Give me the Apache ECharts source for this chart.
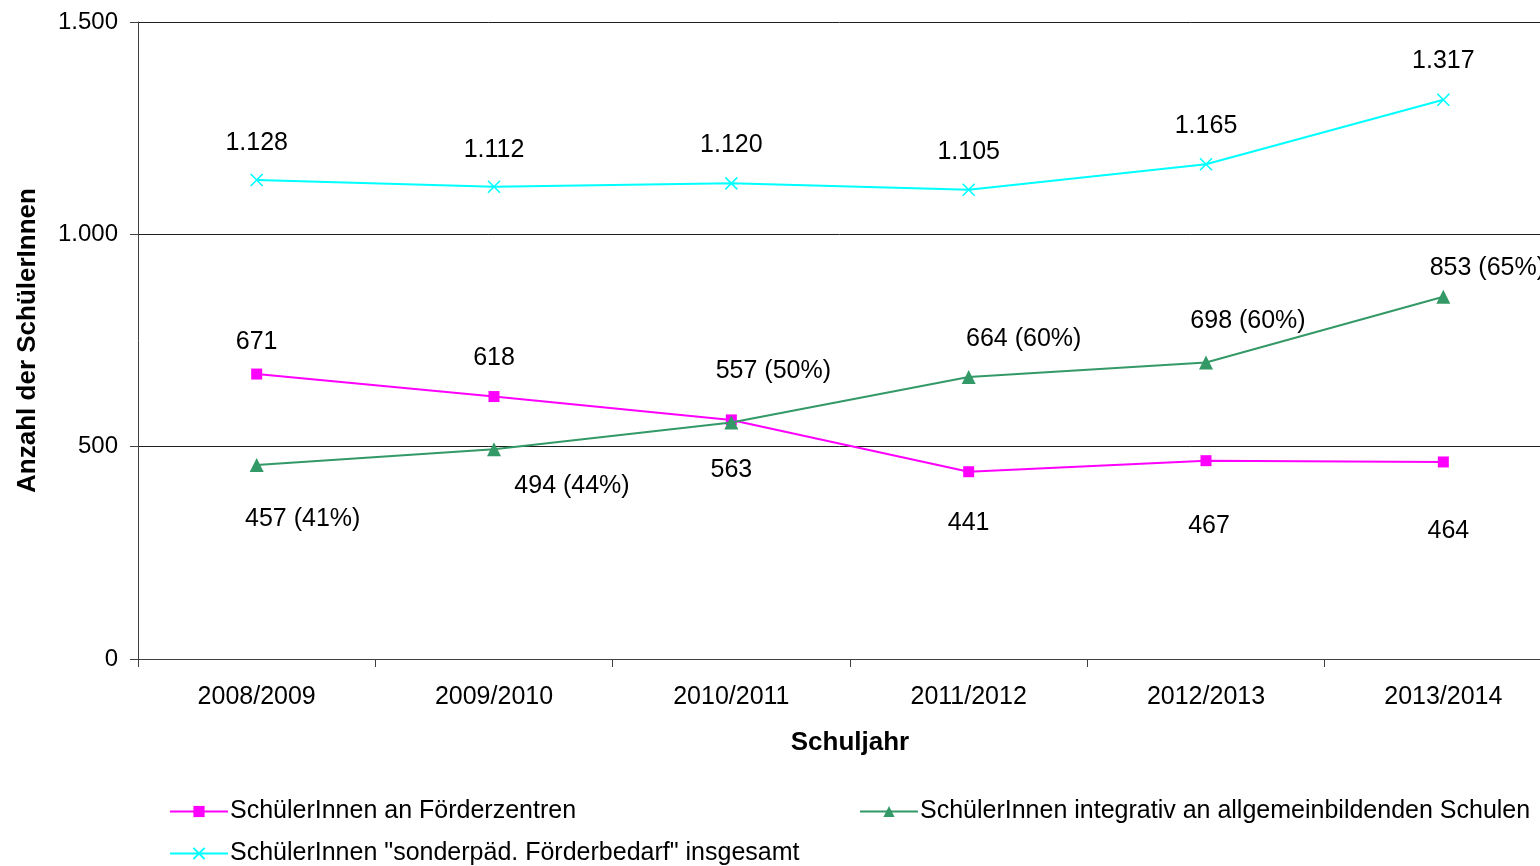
<!DOCTYPE html>
<html>
<head>
<meta charset="utf-8">
<script src="https://cdn.jsdelivr.net/npm/echarts@6/dist/echarts.min.js"></script>
<style>
  html, body { margin: 0; padding: 0; background: #fff; }
  #chart { width: 1540px; height: 866px; }
</style>
</head>
<body>
<div id="chart"></div>
<script>
const years = ['2008/2009', '2009/2010', '2010/2011', '2011/2012', '2012/2013', '2013/2014']
const foerderzentren = [671, 618, 563, 441, 467, 464]
const integrativ = [457, 494, 557, 664, 698, 853]
const integrativPct = [41, 44, 50, 60, 60, 65]
const insgesamt = [1128, 1112, 1120, 1105, 1165, 1317]
const yTicks = [0, 500, 1000, 1500]

const names = [
  'SchülerInnen an Förderzentren',
  'SchülerInnen integrativ an allgemeinbildenden Schulen',
  'SchülerInnen "sonderpäd. Förderbedarf" insgesamt'
]

// label offsets relative to the point (layout only)
const pinkOffsets = [[0, -32], [0, -38], [0, 50], [0, 51], [3, 65], [5, 69]]
const greenOffsets = [[46, 54], [78, 37], [42, -51], [55, -38], [42, -41], [44, -29]]
const cyanOffsets = [[0, -37], [0, -37], [0, -38], [0, -38], [0, -38], [0, -39]]

const font = 'Liberation Sans, Arial, sans-serif'

function fmt(v) {
  return String(v).replace(/\B(?=(\d{3})+(?!\d))/g, '.')
}

function withLabels(values, offsets, textFn) {
  return values.map((v, i) => ({
    value: v,
    label: { offset: offsets[i], formatter: textFn(v, i) }
  }))
}

const labelBase = {
  show: true,
  position: 'inside',
  color: '#000',
  fontFamily: font,
  fontSize: 25
}

const chart = echarts.init(document.getElementById('chart'))
const legendBase = {
  orient: 'horizontal',
  itemWidth: 58,
  itemHeight: 14,
  itemGap: 4,
  textStyle: { fontFamily: font, fontSize: 25, color: '#000', padding: [0, 0, 0, -3] }
}

let option = {
  backgroundColor: '#fff',
  animation: false,
  grid: { left: 138, top: 22, width: 1424, bottom: 207, outerBoundsMode: 'none', containLabel: false },
  legend: [
    Object.assign({ left: 164, top: 794, data: [names[0]] }, legendBase),
    Object.assign({ left: 854, top: 794, data: [names[1]] }, legendBase),
    Object.assign({ left: 164, top: 836, data: [names[2]] }, legendBase)
  ],
  xAxis: {
    type: 'category',
    data: years,
    boundaryGap: true,
    name: 'Schuljahr',
    nameLocation: 'middle',
    nameGap: 71,
    nameTextStyle: { fontFamily: font, fontSize: 26, fontWeight: 'bold', color: '#000' },
    axisLine: { lineStyle: { color: '#404040', width: 1 } },
    axisTick: { show: true, length: 8, lineStyle: { color: '#404040' } },
    axisLabel: { fontFamily: font, fontSize: 25, color: '#000', margin: 26 }
  },
  yAxis: {
    type: 'value',
    min: yTicks[0],
    max: yTicks[yTicks.length - 1],
    interval: yTicks[1] - yTicks[0],
    name: 'Anzahl der SchülerInnen',
    nameLocation: 'middle',
    nameGap: 97,
    nameTextStyle: { fontFamily: font, fontSize: 26, fontWeight: 'bold', color: '#000' },
    axisLine: { show: true, lineStyle: { color: '#404040', width: 1 } },
    axisTick: { show: true, length: 8, lineStyle: { color: '#404040' } },
    axisLabel: { fontFamily: font, fontSize: 24, color: '#000', margin: 20, formatter: v => fmt(v) },
    splitLine: { show: true, lineStyle: { color: '#202020', width: 1 } }
  },
  series: [
    {
      name: names[0],
      type: 'line',
      data: withLabels(foerderzentren, pinkOffsets, v => fmt(v)),
      symbol: 'rect',
      symbolSize: 11,
      color: '#ff00ff',
      lineStyle: { width: 2, color: '#ff00ff' },
      itemStyle: { color: '#ff00ff' },
      label: labelBase,
      z: 3
    },
    {
      name: names[1],
      type: 'line',
      data: withLabels(integrativ, greenOffsets, (v, i) => v + ' (' + integrativPct[i] + '%)'),
      symbol: 'triangle',
      symbolSize: 14,
      color: '#339966',
      lineStyle: { width: 2, color: '#339966' },
      itemStyle: { color: '#339966' },
      label: labelBase,
      z: 4
    },
    {
      name: names[2],
      type: 'line',
      data: withLabels(insgesamt, cyanOffsets, v => fmt(v)),
      symbol: 'path://M0,0L10,10M10,0L0,10',
      symbolSize: 12,
      color: '#00ffff',
      lineStyle: { width: 2, color: '#00ffff' },
      itemStyle: { color: '#00ffff', borderColor: '#00ffff', borderWidth: 1.6 },
      label: labelBase,
      z: 3
    }
  ]
}
chart.setOption(option)
</script>
</body>
</html>
